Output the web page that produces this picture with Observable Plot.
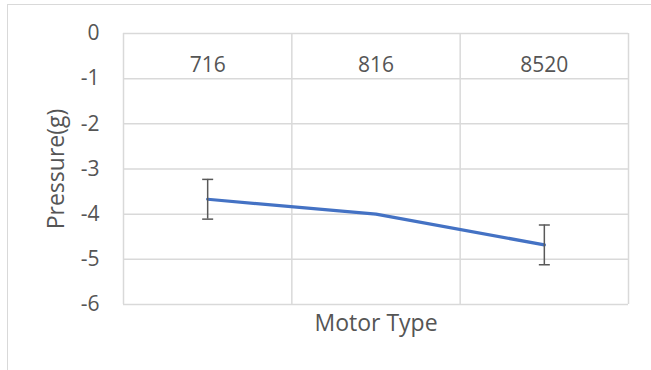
<!DOCTYPE html>
<html>
<head>
<meta charset="utf-8">
<script src="https://cdn.jsdelivr.net/npm/d3@7"></script>
<script src="https://cdn.jsdelivr.net/npm/@observablehq/plot@0.6"></script>
<style>
  html, body { margin: 0; padding: 0; background: #fff; overflow: hidden; }
  #wrap { position: relative; width: 651px; height: 370px; }
  #outer { position: absolute; left: 7px; top: 4px; width: 700px; height: 400px;
           border-left: 1.5px solid #d9d9d9; border-top: 1.5px solid #d9d9d9; }
  #chart { position: absolute; left: 0; top: 0; }
</style>
</head>
<body>
<div id="wrap"><div id="outer"></div><div id="chart"></div></div>
<script>
const categories = ["716", "816", "8520"];
const pressure = [-3.67, -4.0, -4.68];
const errors = [0.44, null, 0.44];
const yTicks = [0, -1, -2, -3, -4, -5, -6];
const xTitle = "Motor Type";
const yTitle = "Pressure(g)";

const data = categories.map((c, i) => ({cat: c, idx: i + 0.5, v: pressure[i], e: errors[i]}));
const errData = data.filter(d => d.e != null);
const caps = errData.flatMap(d => [{idx: d.idx, y: d.v + d.e}, {idx: d.idx, y: d.v - d.e}]);
const bounds = d3.range(categories.length + 1);

// horizontal cap symbol
const capSymbol = {draw(ctx) { ctx.moveTo(-5.5, 0); ctx.lineTo(5.5, 0); }};

const font = "'Open Sans', sans-serif";
const ink = "#555555";
const plot = Plot.plot({
  width: 651, height: 370,
  marginLeft: 123, marginRight: 23, marginTop: 33, marginBottom: 66,
  style: {fontFamily: font, fontSize: "21px", color: ink, background: "transparent"},
  x: {domain: [0, categories.length], axis: null},
  y: {domain: [-6, 0], ticks: yTicks, tickSize: 0, tickPadding: 24, tickFormat: d => String(d), label: null},
  marks: [
    Plot.ruleY(yTicks, {stroke: "#d9d9d9", strokeWidth: 1.5}),
    Plot.ruleX(bounds, {stroke: "#d9d9d9", strokeWidth: 1.5}),
    Plot.text(data, {x: "idx", y: () => 0, text: "cat", dy: 32, fill: ink, fontSize: 21}),
    Plot.line(data, {x: "idx", y: "v", stroke: "#4472C4", strokeWidth: 3.2}),
    Plot.ruleX(errData, {x: "idx", y1: d => d.v + d.e, y2: d => d.v - d.e, stroke: "#595959", strokeWidth: 1.5}),
    Plot.dot(caps, {x: "idx", y: "y", symbol: capSymbol, r: 5, stroke: "#595959", strokeWidth: 1.5, fill: "none"}),
    Plot.text([xTitle], {frameAnchor: "bottom", dy: 26, fill: ink, fontSize: 23, text: d => d}),
    Plot.text([yTitle], {frameAnchor: "left", textAnchor: "middle", dx: -67, rotate: -90, fill: ink, fontSize: 23, text: d => d})
  ]
});
document.getElementById("chart").appendChild(plot);
</script>
</body>
</html>
